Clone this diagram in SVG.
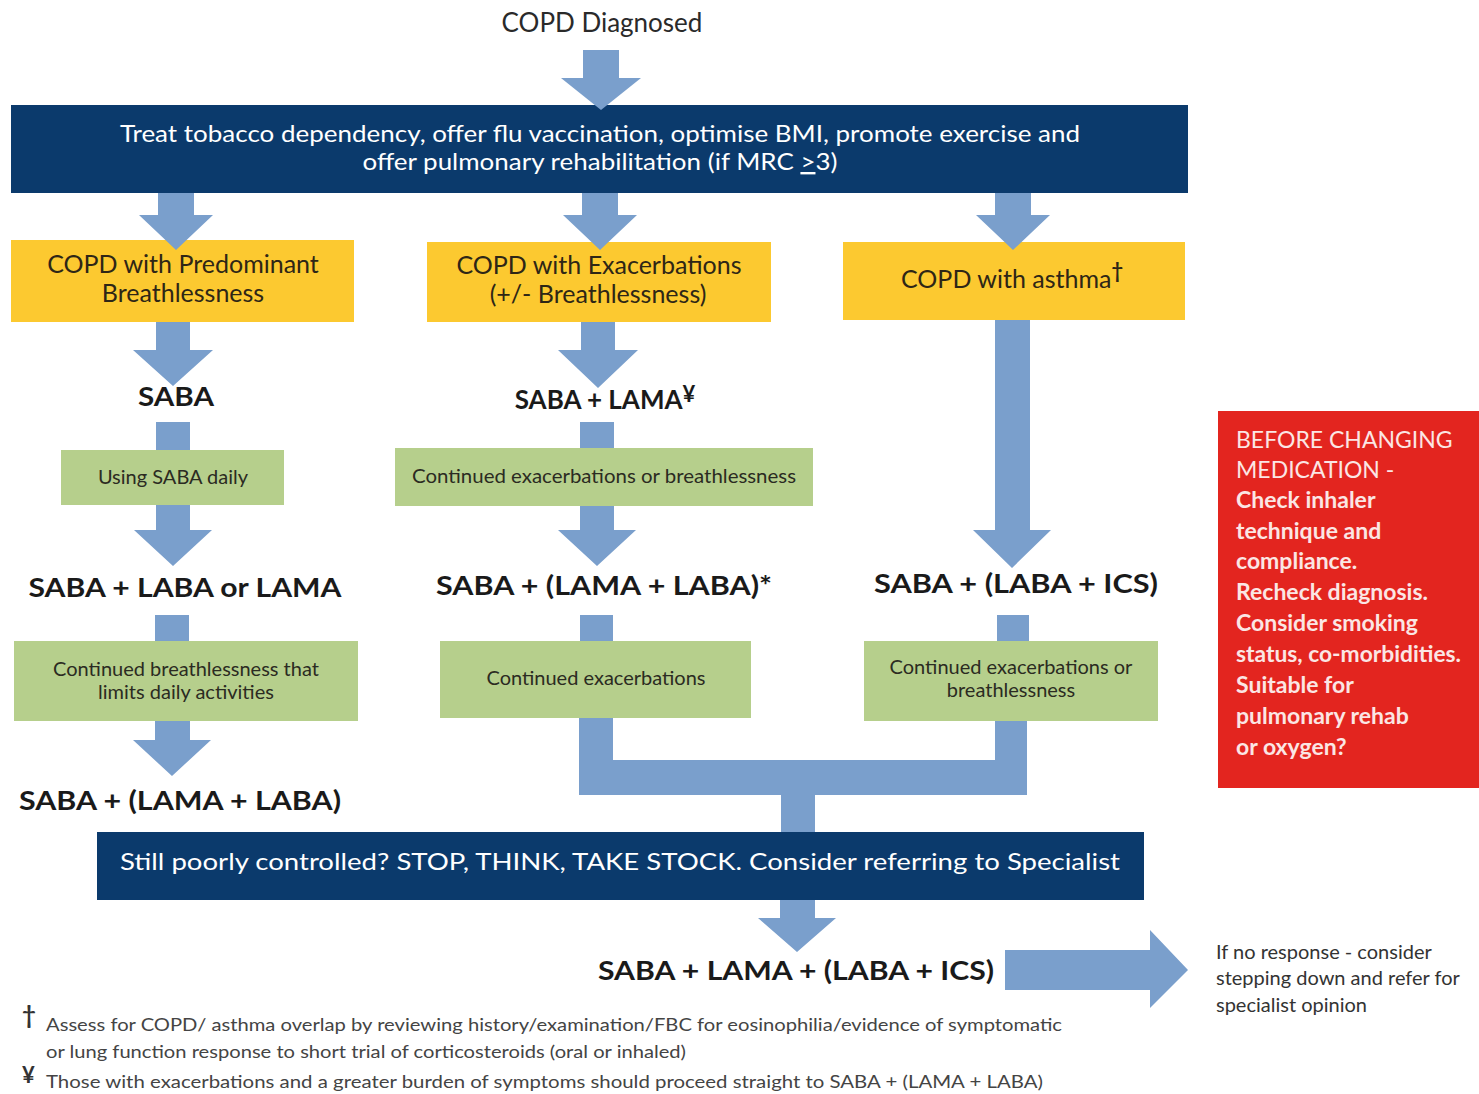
<svg xmlns="http://www.w3.org/2000/svg" width="1479" height="1094" viewBox="0 0 1479 1094">
<style>
.navy{fill:#0b3a6c}
.yel{fill:#fcc930}
.grn{fill:#b6cf8c}
.arr{fill:#7a9fcc}
.t{font-family:Lato,"Open Sans","Liberation Sans",sans-serif}
.wt{fill:#ffffff;font-size:24px;text-anchor:middle}
.yt{fill:#2e2616;font-size:25px;text-anchor:middle}
.gt{fill:#2b2b22;font-size:20px;text-anchor:middle}
.bt{fill:#1a1a1a;font-size:26px;font-weight:bold;text-anchor:middle}
.rt{fill:#fbe6e4;font-size:23px}
.ft{fill:#444;font-size:18px}
.st{fill:#333;font-size:20px}
</style>
<rect width="1479" height="1094" fill="#ffffff"/>
<g id="title"><text class="t" x="602" y="32" font-size="26" fill="#2a2a2a" text-anchor="middle">COPD Diagnosed</text></g>
<g id="n-general"><rect class="navy" x="11" y="105" width="1177" height="88"/>
<text class="t wt" x="600" y="142" textLength="960" lengthAdjust="spacingAndGlyphs">Treat tobacco dependency, offer flu vaccination, optimise BMI, promote exercise and</text>
<text class="t wt" x="600" y="170" textLength="475" lengthAdjust="spacingAndGlyphs">offer pulmonary rehabilitation (if MRC <tspan text-decoration="underline">&gt;</tspan>3)</text></g>
<g id="n-breath"><rect class="yel" x="11" y="240" width="343" height="82"/>
<text class="t yt" x="183" y="273">COPD with Predominant</text><text class="t yt" x="183" y="302">Breathlessness</text></g>
<g id="n-exac"><rect class="yel" x="427" y="242" width="344" height="80"/>
<text class="t yt" x="599" y="274">COPD with Exacerbations</text><text class="t yt" x="598" y="303">(+/- Breathlessness)</text></g>
<g id="n-asthma"><rect class="yel" x="843" y="242" width="342" height="78"/>
<text class="t yt" x="1012" y="288">COPD with asthma<tspan font-size="20" font-weight="bold" dy="-10">†</tspan></text></g>
<g id="n-saba"><text class="t bt" x="176" y="406" textLength="76" lengthAdjust="spacingAndGlyphs">SABA</text></g>
<g id="n-sabalama"><text class="t bt" x="605" y="409">SABA + LAMA<tspan font-size="22" dy="-7">¥</tspan></text></g>
<g id="n-usingsaba"><rect class="grn" x="61" y="450" width="223" height="55"/><text class="t gt" x="173" y="484">Using SABA daily</text></g>
<g id="n-contexb"><rect class="grn" x="395" y="448" width="418" height="58"/><text class="t gt" x="604" y="483" textLength="384" lengthAdjust="spacingAndGlyphs">Continued exacerbations or breathlessness</text></g>
<g id="n-sabalabaorlama"><text class="t bt" x="185" y="597" textLength="313" lengthAdjust="spacingAndGlyphs">SABA + LABA or LAMA</text></g>
<g id="n-sabalamalaba"><text class="t bt" x="604" y="595" textLength="336" lengthAdjust="spacingAndGlyphs">SABA + (LAMA + LABA)*</text></g>
<g id="n-sabalabaics"><text class="t bt" x="1016" y="593" textLength="284" lengthAdjust="spacingAndGlyphs">SABA + (LABA + ICS)</text></g>
<g id="n-contbreath"><rect class="grn" x="14" y="641" width="344" height="80"/><text class="t gt" x="186" y="676">Continued breathlessness that</text><text class="t gt" x="186" y="699">limits daily activities</text></g>
<g id="n-contex"><rect class="grn" x="440" y="641" width="311" height="77"/><text class="t gt" x="596" y="685">Continued exacerbations</text></g>
<g id="n-contexbr"><rect class="grn" x="864" y="641" width="294" height="80"/><text class="t gt" x="1011" y="674">Continued exacerbations or</text><text class="t gt" x="1011" y="697">breathlessness</text></g>
<g id="n-sabalamalaba2"><text class="t bt" x="180" y="810" textLength="322" lengthAdjust="spacingAndGlyphs">SABA + (LAMA + LABA)</text></g>
<g id="n-still"><rect class="navy" x="97" y="832" width="1047" height="68"/><text class="t wt" x="620" y="870" font-size="25" textLength="1000" lengthAdjust="spacingAndGlyphs">Still poorly controlled? STOP, THINK, TAKE STOCK. Consider referring to Specialist</text></g>
<g id="n-final"><text class="t bt" x="796" y="980" textLength="396" lengthAdjust="spacingAndGlyphs">SABA + LAMA + (LABA + ICS)</text></g>
<g id="n-noresp"><text class="t st" x="1216" y="959">If no response - consider</text><text class="t st" x="1216" y="985">stepping down and refer for</text><text class="t st" x="1216" y="1012">specialist opinion</text></g>
<g id="n-before"><rect x="1218" y="411" width="261" height="377" fill="#e3251f"/>
<text class="t rt" x="1236" y="448">BEFORE CHANGING</text>
<text class="t rt" x="1236" y="478">MEDICATION -</text>
<text class="t rt" x="1236" y="508" font-weight="bold">Check inhaler</text>
<text class="t rt" x="1236" y="539" font-weight="bold">technique and</text>
<text class="t rt" x="1236" y="569" font-weight="bold">compliance.</text>
<text class="t rt" x="1236" y="600" font-weight="bold">Recheck diagnosis.</text>
<text class="t rt" x="1236" y="631" font-weight="bold">Consider smoking</text>
<text class="t rt" x="1236" y="662" font-weight="bold" textLength="225" lengthAdjust="spacingAndGlyphs">status, co-morbidities.</text>
<text class="t rt" x="1236" y="693" font-weight="bold">Suitable for</text>
<text class="t rt" x="1236" y="724" font-weight="bold">pulmonary rehab</text>
<text class="t rt" x="1236" y="755" font-weight="bold">or oxygen?</text></g>
<g id="connectors">
<path class="arr" d="M583,50H619V78H641L601,110L561,78H583Z"/>
<path class="arr" d="M158,193H194V215H213L176,250L139,215H158Z"/>
<path class="arr" d="M582,193H618V215H637L600,250L563,215H582Z"/>
<path class="arr" d="M995,193H1031V215H1050L1013,250L976,215H995Z"/>
<path class="arr" d="M156,322H190V350H213L173,386L133,350H156Z"/>
<path class="arr" d="M581,322H615V350H638L598,388L558,350H581Z"/>
<path class="arr" d="M995,320H1030V530H1051L1012,568L973,530H995Z"/>
<rect class="arr" x="156" y="422" width="34" height="28"/>
<rect class="arr" x="580" y="422" width="34" height="26"/>
<path class="arr" d="M156,505H190V530H212L173,566L134,530H156Z"/>
<path class="arr" d="M580,506H614V530H636L597,566L558,530H580Z"/>
<rect class="arr" x="155" y="615" width="34" height="26"/>
<rect class="arr" x="580" y="615" width="33" height="26"/>
<rect class="arr" x="997" y="615" width="32" height="26"/>
<path class="arr" d="M155,721H190V740H211L172,776L133,740H155Z"/>
<path class="arr" d="M579,718H613V760H995V721H1027V795H815V832H781V795H579Z"/>
<path class="arr" d="M780,900H815V918H836L797,952L758,918H780Z"/>
<path class="arr" d="M1005,950H1150V930L1188,970L1150,1008V990H1005Z"/>
</g>
<g id="footnotes">
<text class="t" x="22" y="1024" font-size="24" font-weight="bold" fill="#333">†</text>
<text class="t ft" x="46" y="1031" textLength="1016" lengthAdjust="spacingAndGlyphs">Assess for COPD/ asthma overlap by reviewing history/examination/FBC for eosinophilia/evidence of symptomatic</text>
<text class="t ft" x="46" y="1058" textLength="640" lengthAdjust="spacingAndGlyphs">or lung function response to short trial of corticosteroids (oral or inhaled)</text>
<text class="t" x="22" y="1083" font-size="22" font-weight="bold" fill="#333">¥</text>
<text class="t ft" x="46" y="1088" textLength="997" lengthAdjust="spacingAndGlyphs">Those with exacerbations and a greater burden of symptoms should proceed straight to SABA + (LAMA + LABA)</text>
</g>
</svg>
